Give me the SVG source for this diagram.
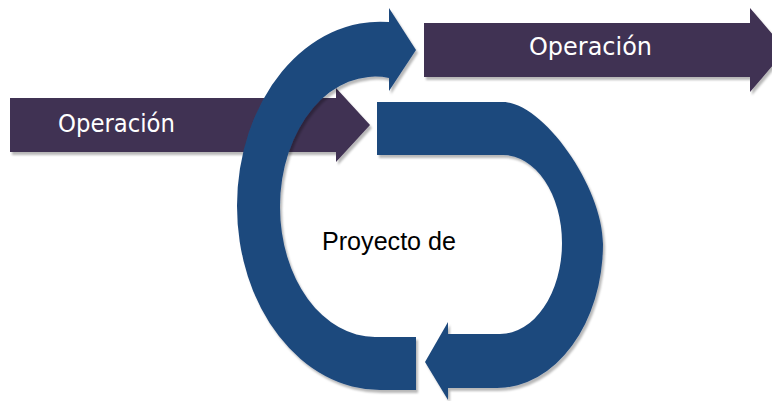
<svg xmlns="http://www.w3.org/2000/svg" width="772" height="401" viewBox="0 0 772 401">
  <defs>
    <filter id="sh" x="-10%" y="-10%" width="130%" height="130%">
      <feDropShadow dx="2" dy="3" stdDeviation="1.2" flood-color="#000" flood-opacity="0.28"/>
    </filter>
    <style>
      .op { fill: #403152; filter: url(#sh); }
      .cyc { fill: #1F497D; filter: url(#sh); }
      .lbl { font-family: "DejaVu Sans", "Liberation Sans", sans-serif; font-size: 25px; fill: #FFFFFF; }
      .ctr { font-family: "Liberation Sans", Arial, sans-serif; font-size: 25px; fill: #000000; }
    </style>
  </defs>
  <rect width="772" height="401" fill="#FFFFFF"/>

  <g id="operacion-left">
    <path class="op" d="M10,98 L336,98 L336,88 L370,125 L336,162 L336,152 L10,152 Z"/>
    <text class="lbl" x="58" y="131.5" textLength="117" lengthAdjust="spacingAndGlyphs">Operación</text>
  </g>

  <g id="operacion-right">
    <path class="op" d="M424,23 L750,23 L750,8 L786,50 L750,92 L750,77 L424,77 Z"/>
    <text class="lbl" x="529" y="55" textLength="123" lengthAdjust="spacingAndGlyphs">Operación</text>
  </g>

  <g id="ciclo-derecho">
    <path class="cyc" d="M377,102 L503,102 C543,102 603,187 603,244 A106,144 0 0 1 497,388 L448,388 L448,400 L425,362 L448,322 L448,334 L500,334 A62,91 0 0 0 562,243 A59,88 0 0 0 503,155 L377,155 Z"/>
  </g>

  <g id="ciclo-izquierdo">
    <path class="cyc" d="M389,22 A143,184 0 0 0 237,206 A143,184 0 0 0 380,390 L416,390 L416,337 L375,337 A95,130 0 0 1 280,207 A95,130 0 0 1 389,78 L389,91 L416,50 L389,8 Z"/>
  </g>

  <g id="proyecto">
    <text class="ctr" x="322" y="249.5" textLength="134" lengthAdjust="spacingAndGlyphs">Proyecto de</text>
  </g>

  <g id="connectors"></g>
</svg>
